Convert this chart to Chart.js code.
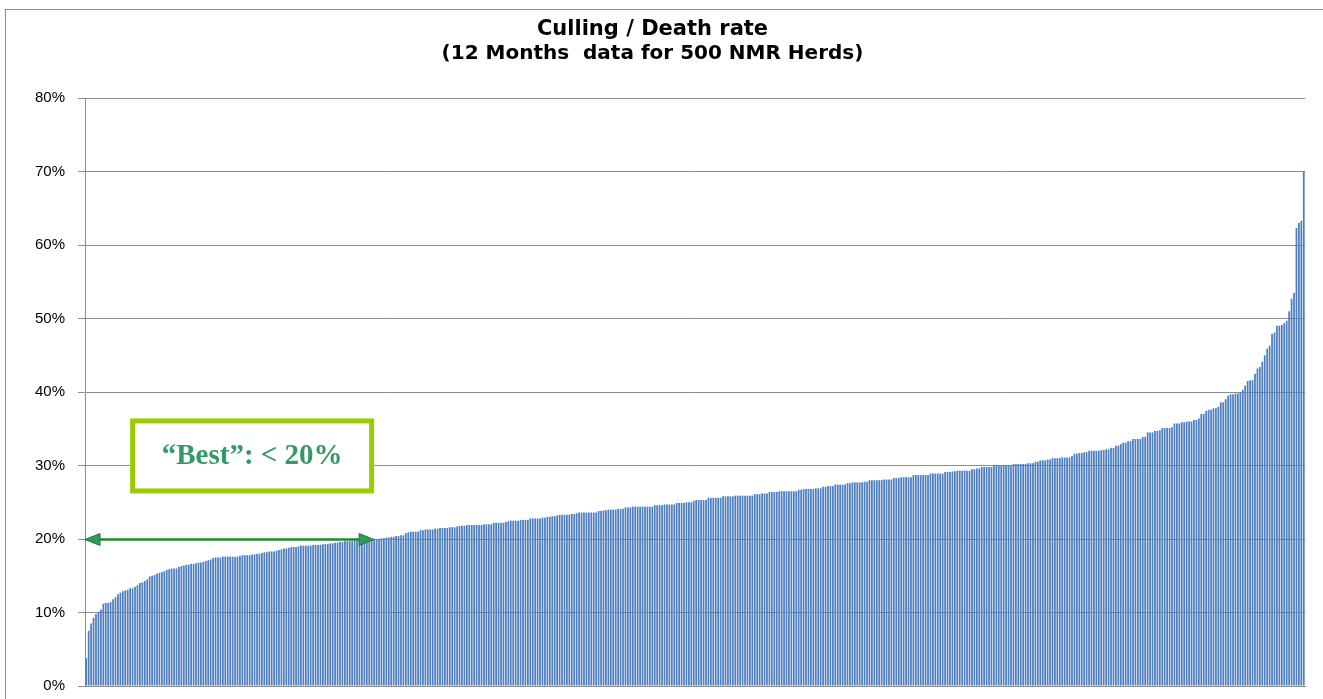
<!DOCTYPE html>
<html>
<head>
<meta charset="utf-8">
<script src="https://cdn.jsdelivr.net/npm/chart.js@4.4.1/dist/chart.umd.min.js"></script>
<style>
  html, body { margin: 0; padding: 0; background: #fff; }
  body { width: 1323px; height: 699px; overflow: hidden; position: relative; }
  #frame { position: absolute; left: 5px; top: 9px; width: 1340px; height: 720px; border: 1px solid #8c8c8c; }
  #wrap { position: absolute; left: 0; top: 0; width: 1323px; height: 699px; }
</style>
</head>
<body>
<div id="frame"></div>
<div id="wrap"><canvas id="chart"></canvas></div>
<script>
  // culling / death rate (%) per herd, sorted, 500 NMR herds
  const ratesHerds1to100 = [
    3.8, 7.5, 8.5, 9.3, 9.8, 10.1, 10.4, 11.2, 11.3, 11.3,
    11.4, 11.8, 12.1, 12.5, 12.7, 12.9, 13.0, 13.1, 13.3, 13.3,
    13.5, 13.7, 14.0, 14.1, 14.3, 14.5, 14.9, 15.0, 15.1, 15.3,
    15.4, 15.5, 15.6, 15.8, 15.9, 16.0, 16.0, 16.0, 16.2, 16.3,
    16.4, 16.5, 16.5, 16.6, 16.6, 16.7, 16.8, 16.8, 16.9, 17.0,
    17.1, 17.2, 17.4, 17.5, 17.5, 17.5, 17.6, 17.6, 17.6, 17.6,
    17.6, 17.6, 17.6, 17.7, 17.8, 17.8, 17.8, 17.8, 17.9, 17.9,
    18.0, 18.0, 18.1, 18.2, 18.2, 18.3, 18.3, 18.3, 18.4, 18.5,
    18.6, 18.7, 18.7, 18.8, 18.9, 18.9, 18.9, 19.0, 19.1, 19.1,
    19.1, 19.1, 19.1, 19.2, 19.2, 19.2, 19.2, 19.3, 19.3, 19.3,
  ];
  const ratesHerds101to200 = [
    19.4, 19.4, 19.5, 19.5, 19.6, 19.6, 19.7, 19.7, 19.7, 19.7,
    19.8, 19.8, 19.9, 19.9, 19.9, 19.9, 20.0, 20.0, 20.0, 20.0,
    20.0, 20.1, 20.1, 20.2, 20.2, 20.3, 20.3, 20.4, 20.4, 20.5,
    20.5, 20.8, 20.9, 21.0, 21.0, 21.0, 21.0, 21.2, 21.2, 21.3,
    21.3, 21.3, 21.3, 21.4, 21.4, 21.5, 21.5, 21.5, 21.5, 21.6,
    21.6, 21.6, 21.7, 21.8, 21.8, 21.8, 21.9, 21.9, 21.9, 21.9,
    21.9, 21.9, 21.9, 22.0, 22.0, 22.0, 22.0, 22.2, 22.2, 22.2,
    22.2, 22.2, 22.3, 22.4, 22.5, 22.5, 22.5, 22.5, 22.6, 22.6,
    22.6, 22.6, 22.8, 22.8, 22.8, 22.8, 22.8, 22.9, 22.9, 23.0,
    23.0, 23.1, 23.1, 23.2, 23.3, 23.3, 23.3, 23.3, 23.3, 23.4,
  ];
  const ratesHerds201to300 = [
    23.4, 23.5, 23.6, 23.6, 23.6, 23.6, 23.6, 23.6, 23.6, 23.6,
    23.8, 23.8, 23.9, 23.9, 24.0, 24.0, 24.0, 24.0, 24.1, 24.1,
    24.1, 24.3, 24.3, 24.3, 24.4, 24.4, 24.4, 24.4, 24.4, 24.4,
    24.4, 24.4, 24.4, 24.6, 24.6, 24.6, 24.6, 24.7, 24.7, 24.7,
    24.7, 24.7, 24.9, 24.9, 24.9, 24.9, 25.0, 25.0, 25.0, 25.2,
    25.3, 25.3, 25.3, 25.3, 25.3, 25.6, 25.6, 25.6, 25.6, 25.6,
    25.6, 25.8, 25.8, 25.8, 25.8, 25.8, 25.9, 25.9, 25.9, 25.9,
    25.9, 25.9, 25.9, 25.9, 26.1, 26.1, 26.1, 26.2, 26.2, 26.2,
    26.4, 26.4, 26.4, 26.4, 26.5, 26.5, 26.5, 26.5, 26.5, 26.5,
    26.5, 26.5, 26.7, 26.7, 26.8, 26.8, 26.8, 26.8, 26.8, 26.9,
  ];
  const ratesHerds301to400 = [
    26.9, 26.9, 27.1, 27.1, 27.2, 27.2, 27.2, 27.4, 27.4, 27.4,
    27.4, 27.4, 27.6, 27.6, 27.7, 27.7, 27.7, 27.7, 27.7, 27.8,
    27.8, 28.0, 28.0, 28.0, 28.0, 28.0, 28.0, 28.1, 28.1, 28.1,
    28.1, 28.3, 28.3, 28.3, 28.4, 28.4, 28.4, 28.4, 28.4, 28.7,
    28.7, 28.7, 28.7, 28.7, 28.7, 28.7, 28.9, 28.9, 28.9, 28.9,
    28.9, 28.9, 29.1, 29.1, 29.1, 29.2, 29.2, 29.3, 29.3, 29.3,
    29.3, 29.3, 29.3, 29.5, 29.5, 29.6, 29.6, 29.8, 29.8, 29.8,
    29.8, 29.8, 30.0, 30.0, 30.0, 30.0, 30.0, 30.0, 30.0, 30.0,
    30.2, 30.2, 30.2, 30.2, 30.2, 30.2, 30.3, 30.3, 30.3, 30.5,
    30.5, 30.7, 30.7, 30.7, 30.8, 30.8, 31.0, 31.0, 31.0, 31.0,
  ];
  const ratesHerds401to500 = [
    31.1, 31.1, 31.1, 31.1, 31.3, 31.6, 31.6, 31.7, 31.7, 31.8,
    31.8, 32.0, 32.0, 32.0, 32.0, 32.0, 32.1, 32.1, 32.2, 32.2,
    32.4, 32.4, 32.7, 32.7, 32.9, 33.1, 33.1, 33.3, 33.3, 33.6,
    33.6, 33.6, 33.6, 33.9, 33.9, 34.5, 34.5, 34.5, 34.7, 34.7,
    34.8, 35.1, 35.1, 35.1, 35.1, 35.2, 35.7, 35.7, 35.7, 35.9,
    35.9, 36.0, 36.0, 36.0, 36.2, 36.2, 36.4, 37.0, 37.0, 37.4,
    37.6, 37.6, 37.8, 37.8, 38.0, 38.6, 38.6, 39.0, 39.5, 39.7,
    39.7, 39.8, 39.8, 40.0, 40.3, 40.9, 41.5, 41.6, 41.6, 42.5,
    43.2, 43.4, 44.1, 45.0, 45.9, 46.3, 47.9, 48.1, 49.0, 49.0,
    49.1, 49.4, 49.7, 51.0, 52.7, 53.5, 62.3, 63.0, 63.3, 70.0,
  ];

  const yTicks = [0, 10, 20, 30, 40, 50, 60, 70, 80];
  const bestCutoff = 20;
  const bestLastHerd = 119;
  const bestLabel = "\u201cBest\u201d: < 20%";

  const cullingRates = [
    ...ratesHerds1to100,
    ...ratesHerds101to200,
    ...ratesHerds201to300,
    ...ratesHerds301to400,
    ...ratesHerds401to500,
  ];
  const herdLabels = cullingRates.map((_, i) => String(i + 1));

  // green "best" arrow + boxed label, placed through the chart scales
  const bestMarker = {
    id: "bestMarker",
    afterDatasetsDraw(chart) {
      const { ctx, chartArea, scales } = chart;
      const x = scales.x;
      const y = scales.y;
      const yLine = Math.round(y.getPixelForValue(bestCutoff)) + 0.5;
      const xStart = chartArea.left;
      const xEnd = x.getPixelForValue(bestLastHerd - 1);
      const head = 15;
      const half = 6;

      ctx.save();
      ctx.strokeStyle = "#1c8a2c";
      ctx.lineWidth = 2.5;
      ctx.beginPath();
      ctx.moveTo(xStart + head - 2, yLine);
      ctx.lineTo(xEnd - head + 2, yLine);
      ctx.stroke();

      ctx.fillStyle = "#2f9a5f";
      ctx.strokeStyle = "#1f7a35";
      ctx.lineWidth = 1;
      [[xStart, 1], [xEnd, -1]].forEach(([tip, dir]) => {
        ctx.beginPath();
        ctx.moveTo(tip, yLine);
        ctx.lineTo(tip + dir * head, yLine - half);
        ctx.lineTo(tip + dir * head, yLine + half);
        ctx.closePath();
        ctx.fill();
        ctx.stroke();
      });

      // label box
      const bx1 = x.getPixelForValue(18);
      const bx2 = xEnd;
      const by1 = y.getPixelForValue(36.4);
      const by2 = y.getPixelForValue(26.2);
      ctx.fillStyle = "#ffffff";
      ctx.fillRect(bx1, by1, bx2 - bx1, by2 - by1);
      ctx.strokeStyle = "#99cc00";
      ctx.lineWidth = 5;
      ctx.strokeRect(bx1 + 2.5, by1 + 2.5, bx2 - bx1 - 5, by2 - by1 - 5);

      ctx.fillStyle = "#339966";
      ctx.font = "bold 29px 'Liberation Serif', 'Times New Roman', serif";
      ctx.textAlign = "center";
      ctx.textBaseline = "middle";
      ctx.fillText(bestLabel, (bx1 + bx2) / 2, (by1 + by2) / 2 + 1);
      ctx.restore();
    },
  };

  const chart = new Chart(document.getElementById("chart"), {
    type: "bar",
    data: {
      labels: herdLabels,
      datasets: [
        {
          label: "Culling / Death rate",
          data: cullingRates,
          backgroundColor: "#4f7fc0",
          barPercentage: 0.72,
          categoryPercentage: 1,
        },
      ],
    },
    options: {
      responsive: true,
      maintainAspectRatio: false,
      animation: false,
      layout: {
        padding: { left: 0, right: 18, top: 0, bottom: 13 },
      },
      scales: {
        x: {
          grid: { display: false, drawTicks: false },
          ticks: { display: false },
          border: { display: true, color: "#8c8c8c", width: 1 },
          afterFit: (scale) => {
            scale.height = 0;
          },
        },
        y: {
          min: 0,
          max: 80,
          afterBuildTicks: (scale) => {
            scale.ticks = yTicks.map((value) => ({ value }));
          },
          afterFit: (scale) => {
            scale.width = 85;
            // tick padding is horizontal only here
            scale.paddingTop = 0;
            scale.paddingBottom = 9;
          },
          ticks: {
            callback: (value) => `${value}%`,
            color: "#000",
            padding: 13,
            font: { family: "'Liberation Sans', Arial, sans-serif", size: 15 },
          },
          grid: {
            color: "#8c8c8c",
            tickLength: 7,
          },
          border: { color: "#8c8c8c" },
        },
      },
      plugins: {
        legend: { display: false },
        tooltip: { enabled: false },
        title: {
          display: true,
          text: "Culling / Death rate",
          color: "#000",
          font: { family: "'DejaVu Sans', sans-serif", size: 21, weight: "bold" },
          padding: { top: 17, bottom: 0 },
        },
        subtitle: {
          display: true,
          text: "(12 Months  data for 500 NMR Herds)",
          color: "#000",
          font: { family: "'DejaVu Sans', sans-serif", size: 20, weight: "bold" },
          padding: { top: 0, bottom: 31.8 },
        },
      },
    },
    plugins: [bestMarker],
  });
</script>
</body>
</html>
